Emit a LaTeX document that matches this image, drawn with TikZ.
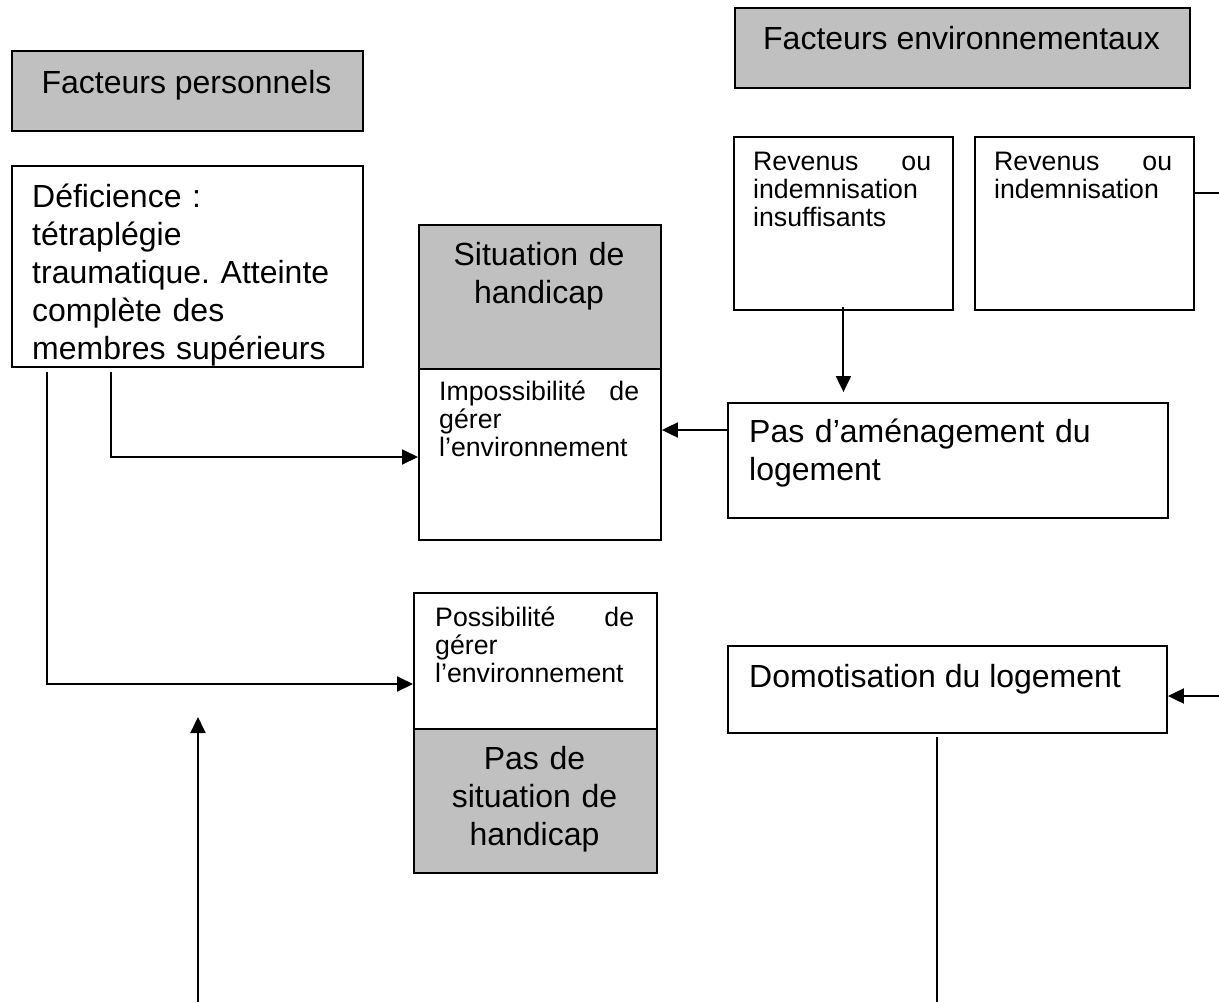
\documentclass[tikz,border=0pt]{standalone}
\usepackage{fontspec}
\setmainfont{Liberation Sans}
\usetikzlibrary{arrows.meta,calc}
\definecolor{boxgray}{HTML}{C0C0C0}
\frenchspacing
\tikzset{
  box/.style={draw, line width=1.9pt, inner sep=0pt, anchor=north west},
  graybox/.style={box, fill=boxgray},
  bigtxt/.style={inner sep=0pt, font=\fontsize{32}{38}\selectfont},
  smalltxt/.style={inner sep=0pt, font=\fontsize{26.7}{28}\selectfont},
  conn/.style={line width=2pt},
  arr/.style={conn, -{Triangle[length=16pt,width=15pt]}},
}
\begin{document}
\begin{tikzpicture}[x=1pt,y=-1pt]
\useasboundingbox[fill=white] (0,0) rectangle (1219,1002);
% boxes
\node[graybox, minimum width=351pt, minimum height=80pt] (fp) at (11,50) {};
\node[graybox, minimum width=455pt, minimum height=80pt] (fe) at (734,7) {};
\node[box, minimum width=351pt, minimum height=201pt] (def) at (11,165) {};
\node[box, minimum width=219pt, minimum height=173pt] (rev1) at (733,136) {};
\node[box, minimum width=219pt, minimum height=173pt] (rev2) at (974,136) {};
\node[graybox, minimum width=242pt, minimum height=144pt] (sith) at (418,224) {};
\node[box, minimum width=242pt, minimum height=171pt] (sitb) at (418,368) {};
\node[box, minimum width=440pt, minimum height=115pt] (pas) at (727,402) {};
\node[box, minimum width=243pt, minimum height=136pt] (posst) at (413,592) {};
\node[graybox, minimum width=243pt, minimum height=144pt] (possb) at (413,728) {};
\node[box, minimum width=439pt, minimum height=87pt] (dom) at (727,645) {};
% texts
\node[bigtxt, anchor=base] (fpt) at (186.5,93) {Facteurs personnels};
\node[bigtxt, anchor=base] (fet) at (961.5,49) {Facteurs environnementaux};
\node[bigtxt, anchor=base west, text width=330pt, align=left] (deft) at (32,207)
  {Déficience :\\tétraplégie\\traumatique. Atteinte\\complète des\\membres supérieurs};
\node[smalltxt, anchor=base west, text width=178pt, align=left] (rev1t) at (753,170)
  {Revenus\hfill ou\\indemnisation\\insuffisants};
\node[smalltxt, anchor=base west, text width=178pt, align=left] (rev2t) at (994,170)
  {Revenus\hfill ou\\indemnisation};
\node[bigtxt, anchor=base, text width=240pt, align=center] (sitt) at (539,265)
  {Situation de\\handicap};
\node[smalltxt, anchor=base west, text width=200pt, align=left] (impt) at (439,400)
  {Impossibilité\hfill de\\gérer\\l’environnement};
\node[bigtxt, anchor=base west, text width=410pt, align=left] (past) at (749,442)
  {Pas d’aménagement du\\logement};
\node[smalltxt, anchor=base west, text width=199pt, align=left] (posst-t) at (435,626)
  {Possibilité\hfill de\\gérer\\l’environnement};
\node[bigtxt, anchor=base, text width=240pt, align=center] (possbt) at (534.5,769)
  {Pas de\\situation de\\handicap};
\node[bigtxt, anchor=base west] (domt) at (749,687) {Domotisation du logement};
% free ends
\coordinate (up0) at (198,1002);
\coordinate (up1) at (198,717);
\coordinate (rx) at (1219,193);
\coordinate (dx) at (1219,696);
\coordinate (dbot) at (937,1002);
% connectors
\draw[arr, shorten <=-4pt, shorten >=10pt] (rev1.south) -- (rev1.south |- pas.north);
\draw[arr] (pas.west |- 0,430) -- (sitb.east |- 0,430);
\draw[arr, shorten <=4pt] (def.south -| 111,0) -- (111,457) -- (sitb.west |- 0,457);
\draw[arr, shorten <=4pt] (def.south -| 47,0) -- (47,684) -- (posst.west |- 0,684);
\draw[arr] (up0) -- (up1);
\draw[conn] (rev2.east |- rx) -- (rx);
\draw[arr] (dx) -- (dom.east |- dx);
\draw[conn, shorten <=3pt] (dom.south -| dbot) -- (dbot);
\end{tikzpicture}
\end{document}
